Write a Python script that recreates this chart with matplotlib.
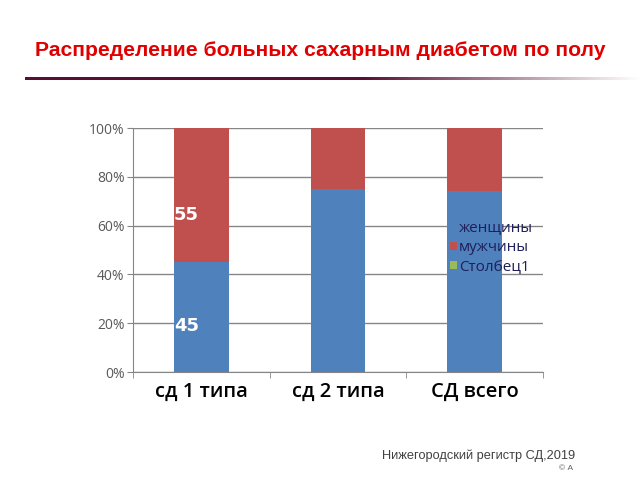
import matplotlib.pyplot as plt
import numpy as np
from matplotlib.transforms import Bbox

# data
categories = ["сд 1 типа", "сд 2 типа", "СД всего"]
women = [0.45, 0.75, 0.74]
men = [0.55, 0.25, 0.26]
col1 = [0.0, 0.0, 0.0]
labels_shown = {0: ("45", "55")}
series_names = ["женщины", "мужчины", "Столбец1"]
yticks = [0, 0.2, 0.4, 0.6, 0.8, 1.0]
ytick_labels = ["0%", "20%", "40%", "60%", "80%", "100%"]

fig = plt.figure(figsize=(6.4, 4.8), dpi=100)
ax = fig.add_axes([133 / 640, 1 - 372 / 480, 410 / 640, 244 / 480])

x = np.arange(len(categories))
w = 0.4
b1 = ax.bar(x, women, w, color="#4f81bd", label=series_names[0], zorder=3)
b2 = ax.bar(x, men, w, bottom=women, color="#c0504d", label=series_names[1], zorder=3)
b3 = ax.bar(x, col1, w, bottom=np.add(women, men), color="#9bbb59", label=series_names[2], zorder=3)

# data labels on first bar
for i, (lw, lm) in labels_shown.items():
    ax.text(i - w / 2, women[i] * 0.42, lw, color="white", fontsize=13, fontweight="bold",
            ha="left", va="center", zorder=4)
    ax.text(i - w / 2, women[i] + men[i] * 0.35, lm, color="white", fontsize=13, fontweight="bold",
            ha="left", va="center", zorder=4)

ax.set_xlim(-0.5, 2.5)
ax.set_ylim(0, 1.0)
ax.set_yticks(yticks)
ax.set_yticklabels(ytick_labels, color="#595959", fontsize=10, family="Open Sans")
ax.grid(axis="y", color="#868686", linewidth=1, zorder=0)
ax.set_xticks(x)
ax.set_xticklabels(categories, fontsize=14.5, family="Open Sans", fontweight="semibold", color="black")
ax.set_xticks([-0.5, 0.5, 1.5, 2.5], minor=True)
ax.tick_params(axis="x", which="major", length=0, pad=7)
ax.tick_params(axis="x", which="minor", length=4, color="#868686")
ax.tick_params(axis="y", length=4, color="#868686", pad=2)
for s in ["top", "right"]:
    ax.spines[s].set_visible(False)
ax.spines["left"].set_color("#868686")
ax.spines["bottom"].set_color("#868686")

leg = ax.legend(handles=[b1, b2, b3], loc="upper left", bbox_to_anchor=(442 / 640, 1 - 213 / 480),
                bbox_transform=fig.transFigure, frameon=False,
                handlelength=0.45, handleheight=0.45, handletextpad=0.15, labelspacing=0.3,
                borderpad=0, prop={"family": "Open Sans", "size": 11})
for t in leg.get_texts():
    t.set_color("#1f1f5a")

# title
fig.text(320 / 640, 1 - 50 / 480, "Распределение больных сахарным диабетом по полу",
         ha="center", va="center", color="#e00000", fontsize=15.2, fontweight="bold",
         family="Liberation Sans")

# gradient underline
lax = fig.add_axes([25 / 640, 1 - 80 / 480, 615 / 640, 3 / 480])
start = np.array([0.35, 0.06, 0.2])
frac = np.clip((np.linspace(0, 1, 300) - 0.55) / 0.45, 0, 1)
grad = start[None, :] + (1 - start[None, :]) * frac[:, None]
lax.imshow(grad[None, :, :], aspect="auto", interpolation="bilinear")
lax.axis("off")

# footer
ft = fig.text(382 / 640, 1 - 456 / 480, "Нижегородский регистр СД,2019", ha="left", va="center",
              color="#404040", fontsize=9.2, family="Liberation Sans")
ft.set_clip_box(Bbox([[0, 0], [576, 480]]))
ft.set_clip_on(True)
fig.text(573 / 640, 1 - 469 / 480, "© А", ha="right", va="center", color="#606060", fontsize=6,
         family="Liberation Sans")

fig.savefig("out.png", dpi=100)
